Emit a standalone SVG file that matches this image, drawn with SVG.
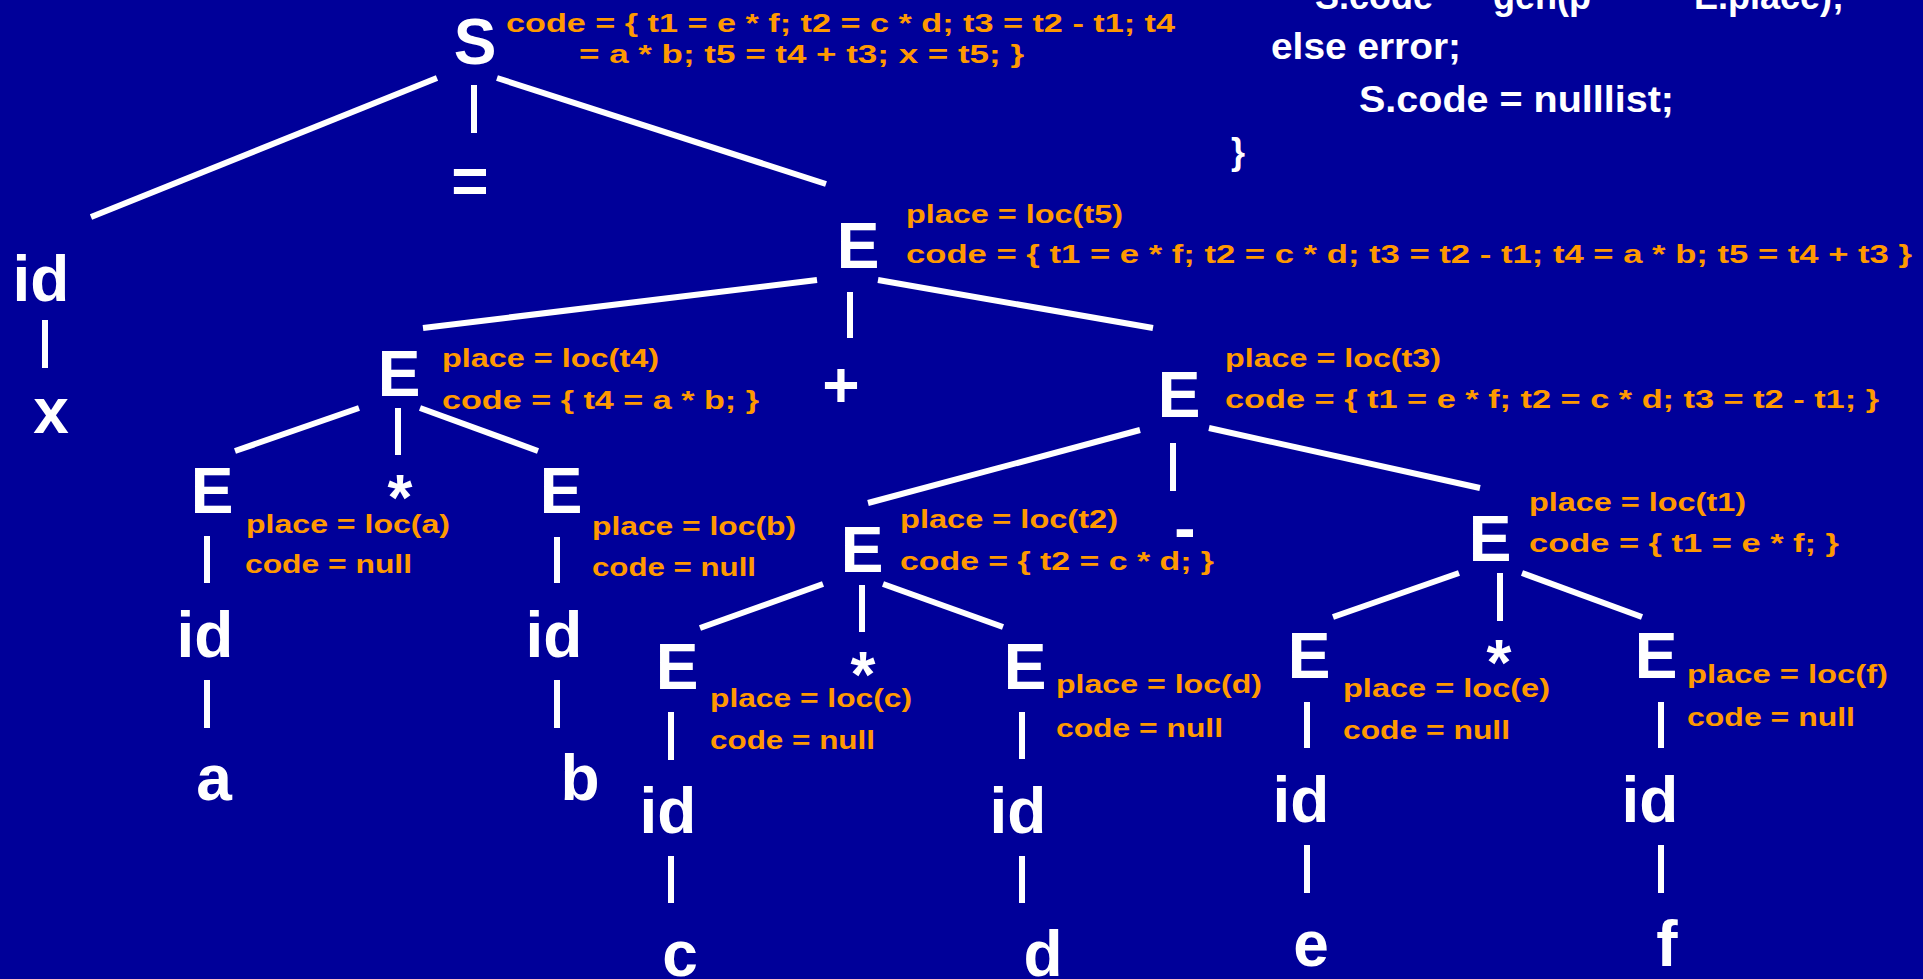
<svg xmlns="http://www.w3.org/2000/svg" width="1923" height="979" viewBox="0 0 1923 979">
  <style>
    text { font-family: "Liberation Sans", Arial, sans-serif; font-weight: bold; }
    .sym { fill: #ffffff; font-size: 64px; text-anchor: middle; }
    .attr { fill: #ff9900; font-size: 26px; }
    .rule { fill: #ffffff; font-size: 36px; }
    .edge { stroke: #ffffff; stroke-width: 6; fill: none; stroke-linecap: butt; }
  </style>

  <rect width="1923" height="979" fill="#000099"/>

  <!-- semantic rule text, top right -->
  <g id="rule-text">
    <text class="rule" y="9"><tspan x="1315">S.code</tspan><tspan x="1493">gen(p</tspan><tspan x="1694">E.place);</tspan></text>
    <text class="rule" x="1271" y="59" textLength="190" lengthAdjust="spacingAndGlyphs">else error;</text>
    <text class="rule" x="1359" y="112" textLength="315" lengthAdjust="spacingAndGlyphs">S.code = nulllist;</text>
    <text class="rule" x="1231" y="164">}</text>
  </g>

  <!-- tree edges -->
  <g id="connectors" class="edge">
    <line x1="437" y1="78" x2="91" y2="217"/>
    <line x1="474" y1="85" x2="474" y2="133"/>
    <line x1="497" y1="78" x2="826" y2="184"/>
    <line x1="45" y1="320" x2="45" y2="368"/>
    <line x1="817" y1="280" x2="423" y2="328"/>
    <line x1="850" y1="292" x2="850" y2="338"/>
    <line x1="878" y1="280" x2="1153" y2="328"/>
    <line x1="359" y1="408" x2="235" y2="451"/>
    <line x1="398" y1="408" x2="398" y2="455"/>
    <line x1="420" y1="408" x2="538" y2="451"/>
    <line x1="207" y1="536" x2="207" y2="583"/>
    <line x1="207" y1="680" x2="207" y2="728"/>
    <line x1="557" y1="537" x2="557" y2="583"/>
    <line x1="557" y1="680" x2="557" y2="728"/>
    <line x1="1140" y1="430" x2="868" y2="503"/>
    <line x1="1173" y1="443" x2="1173" y2="491"/>
    <line x1="1209" y1="428" x2="1480" y2="488"/>
    <line x1="823" y1="584" x2="700" y2="628"/>
    <line x1="862" y1="585" x2="862" y2="632"/>
    <line x1="883" y1="584" x2="1003" y2="627"/>
    <line x1="671" y1="712" x2="671" y2="760"/>
    <line x1="671" y1="856" x2="671" y2="903"/>
    <line x1="1022" y1="712" x2="1022" y2="759"/>
    <line x1="1022" y1="856" x2="1022" y2="903"/>
    <line x1="1459" y1="573" x2="1333" y2="617"/>
    <line x1="1500" y1="573" x2="1500" y2="621"/>
    <line x1="1522" y1="573" x2="1642" y2="617"/>
    <line x1="1307" y1="702" x2="1307" y2="748"/>
    <line x1="1307" y1="845" x2="1307" y2="893"/>
    <line x1="1661" y1="702" x2="1661" y2="748"/>
    <line x1="1661" y1="845" x2="1661" y2="893"/>
  </g>

  <!-- root: S -> id = E -->
  <g id="node-S">
    <text class="sym" x="475" y="64">S</text>
    <text class="attr" x="506" y="32" textLength="669" lengthAdjust="spacingAndGlyphs">code = { t1 = e * f; t2 = c * d; t3 = t2 - t1; t4</text>
    <text class="attr" x="579" y="63" textLength="445" lengthAdjust="spacingAndGlyphs">= a * b; t5 = t4 + t3; x = t5; }</text>
  </g>
  <g id="tok-assign"><text class="sym" x="470" y="203">=</text></g>
  <g id="node-id-x"><text class="sym" x="41" y="301">id</text></g>
  <g id="leaf-x"><text class="sym" x="51" y="433">x</text></g>

  <!-- E -> E + E -->
  <g id="node-E-t5">
    <text class="sym" x="858" y="268">E</text>
    <text class="attr" x="906" y="223" textLength="217" lengthAdjust="spacingAndGlyphs">place = loc(t5)</text>
    <text class="attr" x="906" y="263" textLength="1006" lengthAdjust="spacingAndGlyphs">code = { t1 = e * f; t2 = c * d; t3 = t2 - t1; t4 = a * b; t5 = t4 + t3 }</text>
  </g>
  <g id="tok-plus"><text class="sym" x="841" y="407">+</text></g>

  <!-- E -> E * E (a * b) -->
  <g id="node-E-t4">
    <text class="sym" x="399" y="396">E</text>
    <text class="attr" x="442" y="367" textLength="217" lengthAdjust="spacingAndGlyphs">place = loc(t4)</text>
    <text class="attr" x="442" y="409" textLength="317" lengthAdjust="spacingAndGlyphs">code = { t4 = a * b; }</text>
  </g>
  <g id="tok-mul-ab"><text class="sym" x="400" y="520">*</text></g>
  <g id="node-E-a">
    <text class="sym" x="212" y="513">E</text>
    <text class="attr" x="246" y="533" textLength="204" lengthAdjust="spacingAndGlyphs">place = loc(a)</text>
    <text class="attr" x="245" y="573" textLength="167" lengthAdjust="spacingAndGlyphs">code = null</text>
  </g>
  <g id="node-id-a"><text class="sym" x="205" y="657">id</text></g>
  <g id="leaf-a"><text class="sym" x="214" y="800">a</text></g>
  <g id="node-E-b">
    <text class="sym" x="561" y="513">E</text>
    <text class="attr" x="592" y="535" textLength="204" lengthAdjust="spacingAndGlyphs">place = loc(b)</text>
    <text class="attr" x="592" y="576" textLength="164" lengthAdjust="spacingAndGlyphs">code = null</text>
  </g>
  <g id="node-id-b"><text class="sym" x="554" y="657">id</text></g>
  <g id="leaf-b"><text class="sym" x="580" y="800">b</text></g>

  <!-- E -> E - E -->
  <g id="node-E-t3">
    <text class="sym" x="1179" y="417">E</text>
    <text class="attr" x="1225" y="367" textLength="216" lengthAdjust="spacingAndGlyphs">place = loc(t3)</text>
    <text class="attr" x="1225" y="408" textLength="654" lengthAdjust="spacingAndGlyphs">code = { t1 = e * f; t2 = c * d; t3 = t2 - t1; }</text>
  </g>
  <g id="tok-minus"><text class="sym" x="1185" y="550">-</text></g>

  <!-- E -> E * E (c * d) -->
  <g id="node-E-t2">
    <text class="sym" x="862" y="572">E</text>
    <text class="attr" x="900" y="528" textLength="218" lengthAdjust="spacingAndGlyphs">place = loc(t2)</text>
    <text class="attr" x="900" y="570" textLength="314" lengthAdjust="spacingAndGlyphs">code = { t2 = c * d; }</text>
  </g>
  <g id="tok-mul-cd"><text class="sym" x="863" y="697">*</text></g>
  <g id="node-E-c">
    <text class="sym" x="677" y="689">E</text>
    <text class="attr" x="710" y="707" textLength="202" lengthAdjust="spacingAndGlyphs">place = loc(c)</text>
    <text class="attr" x="710" y="749" textLength="165" lengthAdjust="spacingAndGlyphs">code = null</text>
  </g>
  <g id="node-id-c"><text class="sym" x="668" y="833">id</text></g>
  <g id="leaf-c"><text class="sym" x="680" y="976">c</text></g>
  <g id="node-E-d">
    <text class="sym" x="1025" y="689">E</text>
    <text class="attr" x="1056" y="693" textLength="206" lengthAdjust="spacingAndGlyphs">place = loc(d)</text>
    <text class="attr" x="1056" y="737" textLength="167" lengthAdjust="spacingAndGlyphs">code = null</text>
  </g>
  <g id="node-id-d"><text class="sym" x="1018" y="833">id</text></g>
  <g id="leaf-d"><text class="sym" x="1043" y="976">d</text></g>

  <!-- E -> E * E (e * f) -->
  <g id="node-E-t1">
    <text class="sym" x="1490" y="561">E</text>
    <text class="attr" x="1529" y="511" textLength="217" lengthAdjust="spacingAndGlyphs">place = loc(t1)</text>
    <text class="attr" x="1529" y="552" textLength="310" lengthAdjust="spacingAndGlyphs">code = { t1 = e * f; }</text>
  </g>
  <g id="tok-mul-ef"><text class="sym" x="1499" y="685">*</text></g>
  <g id="node-E-e">
    <text class="sym" x="1309" y="678">E</text>
    <text class="attr" x="1343" y="697" textLength="207" lengthAdjust="spacingAndGlyphs">place = loc(e)</text>
    <text class="attr" x="1343" y="739" textLength="167" lengthAdjust="spacingAndGlyphs">code = null</text>
  </g>
  <g id="node-id-e"><text class="sym" x="1301" y="822">id</text></g>
  <g id="leaf-e"><text class="sym" x="1311" y="966">e</text></g>
  <g id="node-E-f">
    <text class="sym" x="1656" y="678">E</text>
    <text class="attr" x="1687" y="683" textLength="201" lengthAdjust="spacingAndGlyphs">place = loc(f)</text>
    <text class="attr" x="1687" y="726" textLength="168" lengthAdjust="spacingAndGlyphs">code = null</text>
  </g>
  <g id="node-id-f"><text class="sym" x="1650" y="822">id</text></g>
  <g id="leaf-f"><text class="sym" x="1667" y="966">f</text></g>
</svg>
